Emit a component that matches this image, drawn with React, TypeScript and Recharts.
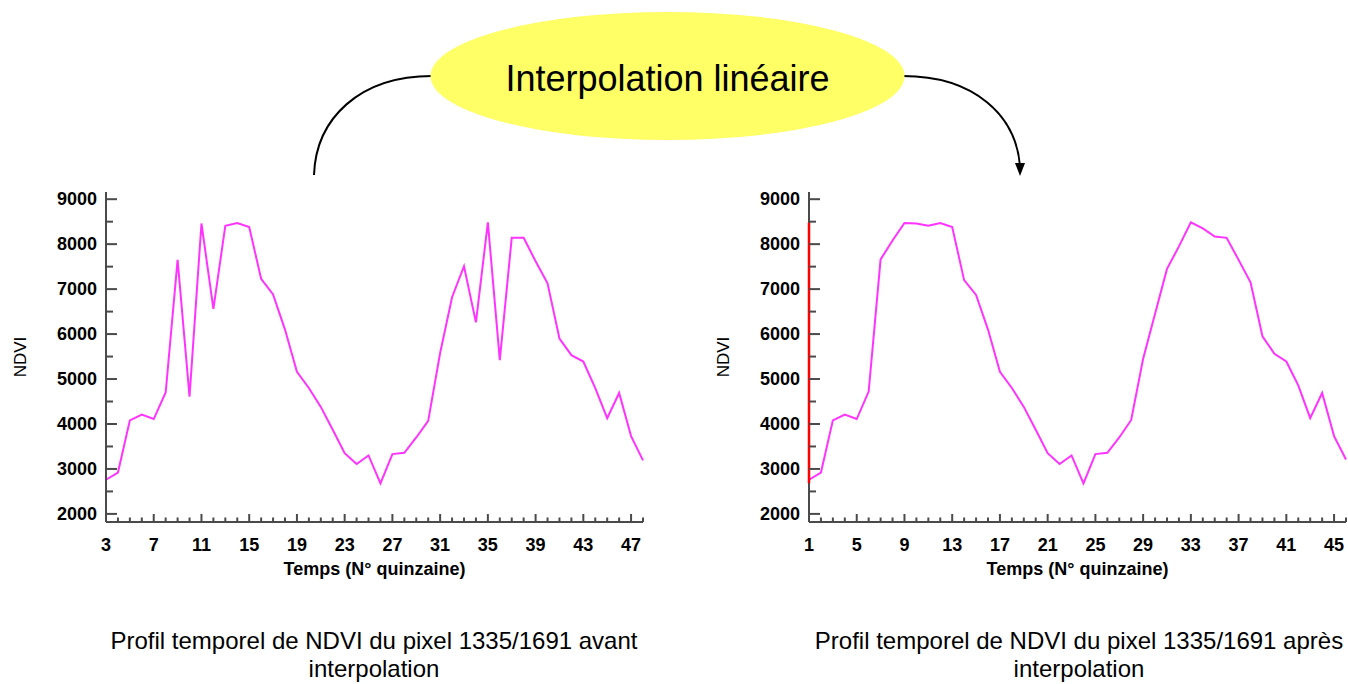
import { LineChart, Line, XAxis, YAxis, ReferenceLine } from 'recharts';

// NDVI before interpolation, fortnights 3..48
const rawFortnights = [3, 4, 5, 6, 7, 8, 9, 10, 11, 12, 13, 14, 15, 16, 17, 18, 19, 20, 21, 22, 23, 24, 25, 26, 27, 28, 29, 30, 31, 32, 33, 34, 35, 36, 37, 38, 39, 40, 41, 42, 43, 44, 45, 46, 47, 48];
const rawNdvi = [2760, 2920, 4080, 4210, 4110, 4700, 7650, 4610, 8460, 6560, 8410, 8470, 8380, 7230, 6880, 6100, 5160, 4800, 4380, 3870, 3350, 3110, 3300, 2680, 3330, 3360, 3700, 4070, 5580, 6820, 7510, 6260, 8484, 5420, 8140, 8140, 7620, 7130, 5900, 5530, 5390, 4800, 4130, 4690, 3730, 3190];

// NDVI after linear interpolation, fortnights 1..46
const interpFortnights = [1, 2, 3, 4, 5, 6, 7, 8, 9, 10, 11, 12, 13, 14, 15, 16, 17, 18, 19, 20, 21, 22, 23, 24, 25, 26, 27, 28, 29, 30, 31, 32, 33, 34, 35, 36, 37, 38, 39, 40, 41, 42, 43, 44, 45, 46];
const interpNdvi = [2760, 2920, 4080, 4210, 4110, 4720, 7660, 8080, 8470, 8460, 8410, 8470, 8380, 7200, 6870, 6100, 5160, 4800, 4380, 3870, 3350, 3110, 3300, 2680, 3330, 3360, 3700, 4090, 5450, 6450, 7450, 7950, 8484, 8350, 8170, 8140, 7650, 7150, 5950, 5560, 5390, 4860, 4130, 4690, 3730, 3210];

const yTicks = [2000, 2500, 3000, 3500, 4000, 4500, 5000, 5500, 6000, 6500, 7000, 7500, 8000, 8500, 9000];
const yDomain = [1820, 9160];

const rawData = rawFortnights.map((t, i) => ({ t, ndvi: rawNdvi[i] }));
const interpData = interpFortnights.map((t, i) => ({ t, ndvi: interpNdvi[i] }));

const FONT = '"Liberation Sans", Arial, sans-serif';
const AXIS = '#4a4a4a';

function YTick(props: any) {
  const { x, y, payload } = props;
  const major = payload.value % 1000 === 0;
  return (
    <g>
      <line x1={x} x2={x + (major ? 11 : 7)} y1={y} y2={y} stroke={AXIS} strokeWidth={2} />
      {major && (
        <text x={x - 9} y={y} textAnchor="end" dominantBaseline="central"
          fontFamily={FONT} fontSize={18} fontWeight="bold" fill="#000">
          {payload.value}
        </text>
      )}
    </g>
  );
}

function makeXTick(start: number) {
  return (props: any) => {
    const { x, y, payload } = props;
    const major = (payload.value - start) % 4 === 0;
    return (
      <g>
        <line x1={x} x2={x} y1={y} y2={y - (major ? 8 : 4.5)} stroke={AXIS} strokeWidth={2} />
        {major && (
          <text x={x} y={y + 23} textAnchor="middle" dominantBaseline="central"
            fontFamily={FONT} fontSize={18} fontWeight="bold" fill="#000">
            {payload.value}
          </text>
        )}
      </g>
    );
  };
}

function NdviChart({ data, xs, showRange }: { data: any[]; xs: number[]; showRange?: boolean }) {
  const vals = data.map((d) => d.ndvi);
  const lo = Math.min(...vals);
  const hi = Math.max(...vals);
  return (
    <LineChart width={660} height={420} data={data}
      margin={{ top: 12, right: 17, bottom: 48, left: 46 }}>
      <XAxis dataKey="t" type="number" domain={[xs[0], xs[xs.length - 1]]} ticks={xs}
        interval={0} height={30} tickSize={0} tickMargin={0} tickLine={false}
        axisLine={{ stroke: AXIS, strokeWidth: 2 }} tick={makeXTick(xs[0])}
        label={{ value: 'Temps (N° quinzaine)', position: 'bottom', offset: 10,
          style: { fontFamily: FONT, fontSize: 18, fontWeight: 'bold', fill: '#000' } }} />
      <YAxis type="number" domain={yDomain} ticks={yTicks} interval={0} width={60}
        tickSize={0} tickMargin={0} tickLine={false} allowDataOverflow
        axisLine={{ stroke: AXIS, strokeWidth: 2 }} tick={(p: any) => <YTick {...p} />}
        label={{ value: 'NDVI', angle: -90, position: 'insideLeft', offset: -26,
          style: { fontFamily: FONT, fontSize: 17, fill: '#000', textAnchor: 'middle' } }} />
      <Line type="linear" dataKey="ndvi" stroke="#ff33ff" strokeWidth={2} dot={false}
        isAnimationActive={false} />
      {showRange && (
        <ReferenceLine segment={[{ x: xs[0], y: lo }, { x: xs[0], y: hi }]}
          stroke="#ff0000" strokeWidth={2.5} ifOverflow="visible" zIndex={700} />
      )}
    </LineChart>
  );
}

export default function App() {
  return (
    <div style={{ position: 'absolute', left: 0, top: 0, width: 1348, height: 684,
      overflow: 'hidden', background: '#fff', fontFamily: FONT }}>
      <svg width={1348} height={190} style={{ position: 'absolute', left: 0, top: 0 }}>
        <path d="M432,76 C360,76 316,118 314,175" fill="none" stroke="#000" strokeWidth={2} />
        <path d="M903,76 C975,76 1016,116 1020,166" fill="none" stroke="#000" strokeWidth={2} />
        <path d="M1015,163 L1025,163 L1020,176 Z" fill="#000" />
        <ellipse cx={667.5} cy={76} rx={237} ry={64} fill="#ffff66" />
        <text x={667.5} y={78} textAnchor="middle" dominantBaseline="central"
          fontFamily={FONT} fontSize={36} fill="#000">Interpolation linéaire</text>
      </svg>
      <div style={{ position: 'absolute', left: 0, top: 180 }}>
        <NdviChart data={rawData} xs={rawFortnights} />
      </div>
      <div style={{ position: 'absolute', left: 703, top: 180 }}>
        <NdviChart data={interpData} xs={interpFortnights} showRange />
      </div>
      <div style={{ position: 'absolute', left: 99, top: 627, width: 550, textAlign: 'center',
        fontSize: 24, lineHeight: '28px', color: '#000' }}>
        Profil temporel de NDVI du pixel 1335/1691 avant<br />interpolation
      </div>
      <div style={{ position: 'absolute', left: 804, top: 627, width: 550, textAlign: 'center',
        fontSize: 24, lineHeight: '28px', color: '#000' }}>
        Profil temporel de NDVI du pixel 1335/1691 après<br />interpolation
      </div>
    </div>
  );
}
